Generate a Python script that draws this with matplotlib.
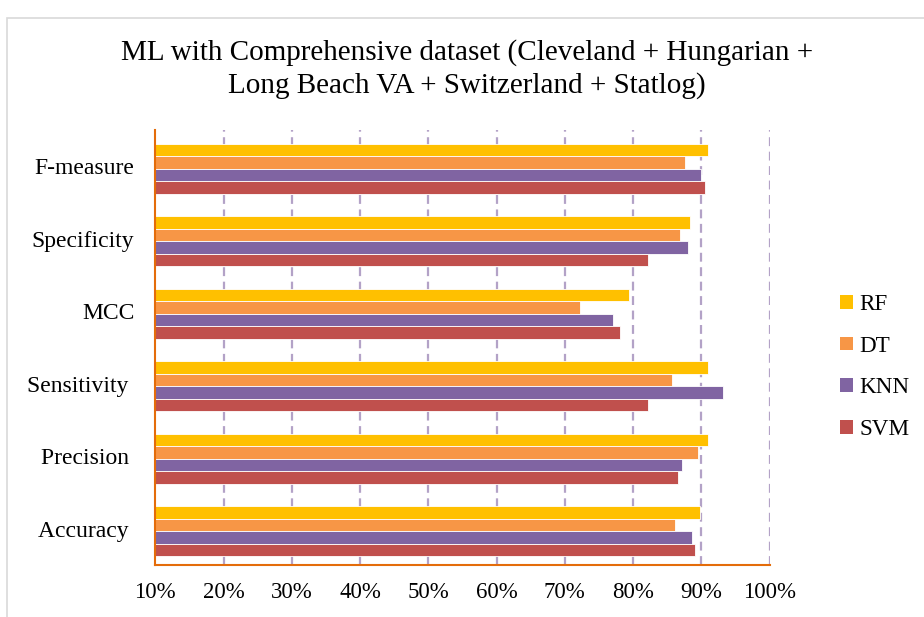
import numpy as np
import matplotlib.pyplot as plt
from matplotlib.patches import Rectangle, Patch

plt.rcParams['font.family'] = ['Liberation Serif', 'DejaVu Serif']

# data
categories = ["Accuracy ", "Precision ", "Sensitivity ", "MCC", "Specificity", "F-measure"]
models = ["RF", "DT", "KNN", "SVM"]
rf = [89.8, 91.0, 91.0, 79.4, 88.3, 91.0]
dt = [86.2, 89.5, 85.7, 72.2, 86.8, 87.6]
knn = [88.6, 87.1, 93.1, 77.1, 88.1, 90.0]
svm = [89.0, 86.6, 82.2, 78.1, 82.2, 90.5]
colors = ["#FFC000", "#F79646", "#8064A2", "#C0504D"]
ticks = [10, 20, 30, 40, 50, 60, 70, 80, 90, 100]

fig = plt.figure(figsize=(9.24, 6.17), dpi=100)
ax = fig.add_axes([0.168, 0.084, 0.665, 0.705])

y = np.arange(len(categories))
h = 0.172
series = [rf, dt, knn, svm]
for i, vals in enumerate(series):
    off = (1.5 - i) * h
    ax.barh(y + off - 0.03, np.array(vals) - 10, height=h, left=10, color=colors[i],
            edgecolor="white", linewidth=0.6, zorder=3)

ax.set_xlim(10, 100)
ax.set_ylim(-0.5, len(categories) - 0.5)
ax.set_xticks(ticks)
ax.set_xticklabels(["{}%".format(t) for t in ticks], fontsize=16.5)
ax.set_yticks(y)
ax.set_yticklabels(categories, fontsize=17)
ax.tick_params(axis="x", length=0, pad=12)
ax.tick_params(axis="y", length=0, pad=15)

for t in ticks[1:]:
    ax.axvline(t, color="#B3A2C7", linestyle=(0, (4, 2.5)), linewidth=1.6, zorder=1)

for s in ["top", "right"]:
    ax.spines[s].set_visible(False)
for s in ["left", "bottom"]:
    ax.spines[s].set_color("#E46C0A")
    ax.spines[s].set_linewidth(1.5)
    ax.spines[s].set_zorder(4)

fig.text(0.505, 0.888,
         "ML with Comprehensive dataset (Cleveland + Hungarian +\nLong Beach VA + Switzerland + Statlog)",
         fontsize=21, ha="center", va="center", linespacing=1.3)

handles = [Patch(facecolor=c, edgecolor="none") for c in colors]
fig.legend(handles, models, loc="center left", bbox_to_anchor=(0.887, 0.405),
           frameon=False, fontsize=16.7, handlelength=0.52, handleheight=0.52,
           handletextpad=0.3, labelspacing=0.89)

fig.patches.append(Rectangle((7 / 924, -0.1), 1.2, 1 - 18 / 617 + 0.1,
                             transform=fig.transFigure, fill=False,
                             edgecolor="#D9D9D9", linewidth=1.2))

plt.savefig("out.png", dpi=100)
